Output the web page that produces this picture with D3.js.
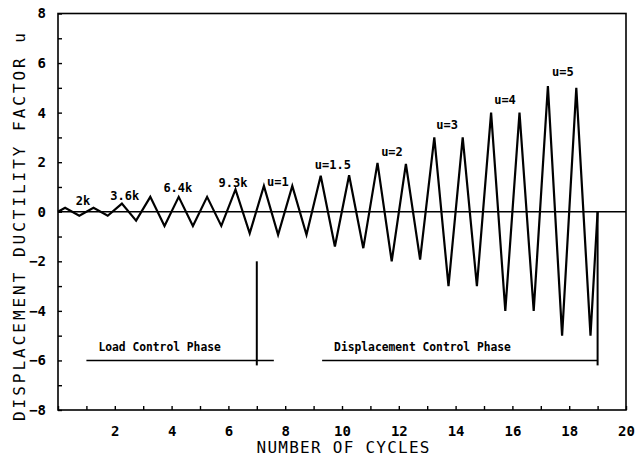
<!DOCTYPE html>
<html>
<head>
<meta charset="utf-8">
<script src="https://cdn.jsdelivr.net/npm/d3@7"></script>
<style>
	body { margin: 0; background: #fff; }
	text { font-family: "DejaVu Sans Mono", "Liberation Mono", monospace; fill: #000; }
</style>
</head>
<body>
<div id="chart"></div>
<script>
/**
 * Data
 * */

// turning points of the loading history (cycle number, ductility factor)
const cycleAt = [0, 0.25, 0.75, 1.25, 1.75, 2.25, 2.75, 3.25, 3.75, 4.25, 4.75, 5.25, 5.75, 6.25, 6.75, 7.25, 7.75, 8.25, 8.75, 9.25, 9.75, 10.25, 10.75, 11.25, 11.75, 12.25, 12.75, 13.25, 13.75, 14.25, 14.75, 15.25, 15.75, 16.25, 16.75, 17.25, 17.75, 18.25, 18.75, 19]
const ductility = [0, 0.16, -0.16, 0.16, -0.16, 0.33, -0.36, 0.6, -0.57, 0.6, -0.57, 0.6, -0.57, 0.9, -0.87, 1.04, -0.93, 1.04, -0.93, 1.45, -1.4, 1.47, -1.47, 1.97, -2.0, 1.93, -1.93, 3.0, -3.0, 3.0, -3.0, 4.0, -4.0, 4.0, -4.0, 5.07, -5.0, 5.0, -5.0, 0]

// load / ductility level labels over the peaks
const levelText = ['2k', '3.6k', '6.4k', '9.3k', 'u=1', 'u=1.5', 'u=2', 'u=3', 'u=4', 'u=5']
const levelCycle = [0.88, 2.35, 4.22, 6.16, 7.74, 9.68, 11.76, 13.7, 15.74, 17.78]
const levelValue = [0.4, 0.6, 0.95, 1.15, 1.2, 1.88, 2.4, 3.5, 4.5, 5.6]

// phases (start cycle, end cycle, label)
const phaseText = ['Load Control Phase', 'Displacement Control Phase']
const phaseStart = [1.0, 9.3]
const phaseEnd = [7.6, 19.0]
const phaseLevel = -6
const phaseMarkers = [7, 19]
const markerTop = [-2, 0]

// axes
const xTicks = [2, 4, 6, 8, 10, 12, 14, 16, 18, 20]
const yTicks = [8, 6, 4, 2, 0, -2, -4, -6, -8]

/**
 * Setup
 * */

const width = 636
const height = 459

const x = d3.scaleLinear().domain([0, 20]).range([58, 626])
const y = d3.scaleLinear().domain([-8, 8]).range([410, 13.5])

const $svg = d3.select('#chart')
	.append('svg')
	.attr('width', width)
	.attr('height', height)

// frame
$svg.append('rect')
	.attr('x', x(0))
	.attr('y', y(8))
	.attr('width', x(20) - x(0))
	.attr('height', y(-8) - y(8))
	.attr('fill', 'none')
	.attr('stroke', '#000')
	.attr('stroke-width', 1.6)

/**
 * Axes
 * */

const styleAxis = $g => {
	$g.select('.domain').remove()
	$g.selectAll('line').attr('stroke', '#000').attr('stroke-width', 1.4)
	$g.selectAll('text')
		.style('font-family', '"DejaVu Sans Mono", monospace')
		.style('font-size', '14px')
		.style('font-weight', 'bold')
		.attr('fill', '#000')
}

// labels
$svg.append('g')
	.attr('transform', `translate(0, ${y(-8)})`)
	.call(d3.axisBottom(x).tickValues(xTicks).tickSize(0).tickPadding(16).tickFormat(d3.format('d')))
	.call(styleAxis)

$svg.append('g')
	.attr('transform', `translate(${x(0)}, 0)`)
	.call(d3.axisLeft(y).tickValues(yTicks).tickSize(0).tickPadding(12).tickFormat(d3.format('d')))
	.call(styleAxis)

// little inward ticks, one per unit
$svg.append('g')
	.attr('transform', `translate(0, ${y(-8)})`)
	.call(d3.axisTop(x).ticks(20).tickSize(4).tickFormat(''))
	.call(styleAxis)

$svg.append('g')
	.attr('transform', `translate(${x(0)}, 0)`)
	.call(d3.axisRight(y).ticks(16).tickSize(4).tickFormat(''))
	.call(styleAxis)

// axis titles
$svg.append('text')
	.attr('transform', `translate(25, ${(421 + 33) / 2}) rotate(-90)`)
	.attr('text-anchor', 'middle')
	.attr('textLength', 388)
	.attr('lengthAdjust', 'spacing')
	.style('font-size', '16px')
	.text('DISPLACEMENT DUCTILITY FACTOR u')

$svg.append('text')
	.attr('x', 343)
	.attr('y', 453)
	.attr('text-anchor', 'middle')
	.attr('textLength', 173)
	.attr('lengthAdjust', 'spacing')
	.style('font-size', '16px')
	.text('NUMBER OF CYCLES')

/**
 * Zero line and loading history
 * */

$svg.append('line')
	.attr('x1', x(0))
	.attr('x2', x(20))
	.attr('y1', y(0))
	.attr('y2', y(0))
	.attr('stroke', '#000')
	.attr('stroke-width', 1.5)

const history = cycleAt.map((c, i) => ({cycle: c, value: ductility[i]}))

$svg.append('path')
	.datum(history)
	.attr('d', d3.line().x(d => x(d.cycle)).y(d => y(d.value)))
	.attr('fill', 'none')
	.attr('stroke', '#000')
	.attr('stroke-width', 2.2)
	.attr('stroke-linejoin', 'miter')

$svg.selectAll('.level')
	.data(levelText)
	.join('text')
		.attr('class', 'level')
		.attr('x', (d, i) => x(levelCycle[i]))
		.attr('y', (d, i) => y(levelValue[i]))
		.attr('text-anchor', 'middle')
		.attr('dominant-baseline', 'middle')
		.style('font-size', '12px')
		.style('font-weight', 'bold')
		.text(d => d)

/**
 * Phases
 * */

$svg.selectAll('.phase-line')
	.data(phaseText)
	.join('line')
		.attr('class', 'phase-line')
		.attr('x1', (d, i) => x(phaseStart[i]))
		.attr('x2', (d, i) => x(phaseEnd[i]))
		.attr('y1', y(phaseLevel))
		.attr('y2', y(phaseLevel))
		.attr('stroke', '#000')
		.attr('stroke-width', 1.5)

$svg.selectAll('.phase-marker')
	.data(phaseMarkers)
	.join('line')
		.attr('class', 'phase-marker')
		.attr('x1', d => x(d))
		.attr('x2', d => x(d))
		.attr('y1', (d, i) => y(markerTop[i]))
		.attr('y2', y(phaseLevel - 0.2))
		.attr('stroke', '#000')
		.attr('stroke-width', 2)

$svg.selectAll('.phase-text')
	.data(phaseText)
	.join('text')
		.attr('class', 'phase-text')
		.attr('x', (d, i) => x(phaseStart[i]) + 12)
		.attr('y', y(phaseLevel) - 9)
		.attr('textLength', d => d.length * 6.8)
		.attr('lengthAdjust', 'spacingAndGlyphs')
		.style('font-size', '12px')
		.style('font-weight', 'bold')
		.text(d => d)
</script>
</body>
</html>
